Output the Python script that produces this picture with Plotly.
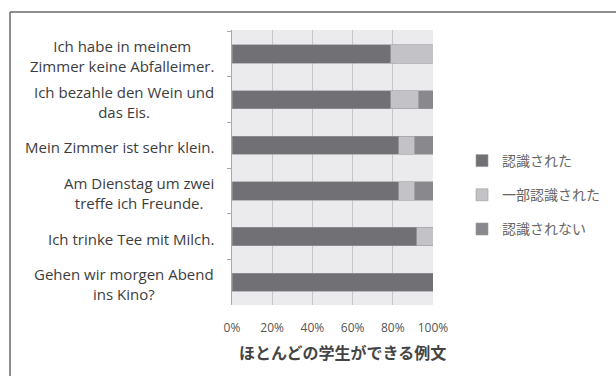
import plotly.graph_objects as go

categories = [
    "Ich habe in meinem<br>Zimmer keine Abfalleimer.",
    "Ich bezahle den Wein und<br>das Eis.",
    "Mein Zimmer ist sehr klein.",
    "Am Dienstag um zwei<br>treffe ich Freunde.",
    "Ich trinke Tee mit Milch.",
    "Gehen wir morgen Abend<br>ins Kino?",
]
recognized = [79, 79, 83, 83, 92, 100]
partly = [21, 14, 8, 8, 8, 0]
not_recognized = [0, 7, 9, 9, 0, 0]
series_names = ["認識された", "一部認識された", "認識されない"]
x_ticks = [0, 20, 40, 60, 80, 100]
x_title = "ほとんどの学生ができる例文"

W, H = 616, 376
L, R, T, B = 232, 433, 30, 305
pw, ph = R - L, B - T

def px_x(p):
    return (p - L) / pw

def px_y(p):
    return (B - p) / ph

colors = ["#707075", "#c3c3c7", "#89898d"]
fig = go.Figure()
for name, vals, col in zip(series_names, [recognized, partly, not_recognized], colors):
    fig.add_trace(go.Bar(
        y=categories, x=vals, name=name, orientation="h",
        marker=dict(color=col, line=dict(width=0.6, color="#9a9a9e")),
        legendgroup=name,
    ))

for c in categories:
    fig.add_annotation(
        x=0, xref="paper", y=c, yref="y", text=c, showarrow=False,
        xanchor="right", xshift=-16, yshift=-2, align="center",
        font=dict(family="Open Sans, sans-serif", size=15, color="#3d3d3d"),
    )

fig.add_annotation(
    x=0.5, xref="paper", y=px_y(352), yref="paper", text="<b>" + x_title + "</b>",
    showarrow=False, xanchor="center", yanchor="middle", xshift=10,
    font=dict(family="Noto Sans CJK JP", size=16, color="#444444"),
)

# outer frame
fig.add_shape(type="line", xref="paper", yref="paper",
              x0=px_x(10), x1=px_x(W + 5), y0=px_y(12), y1=px_y(12),
              line=dict(color="#6a6a6a", width=1.5))
fig.add_shape(type="line", xref="paper", yref="paper",
              x0=px_x(10), x1=px_x(10), y0=px_y(12), y1=px_y(H + 5),
              line=dict(color="#6a6a6a", width=1.5))

fig.update_layout(
    width=W, height=H,
    margin=dict(l=L, r=W - R, t=T, b=H - B, autoexpand=False),
    paper_bgcolor="white", plot_bgcolor="#ebebed",
    barmode="stack", bargap=0.6,
    font=dict(family="Open Sans, Noto Sans CJK JP, sans-serif", color="#555555"),
    xaxis=dict(range=[0, 100], tickvals=x_ticks, ticktext=[f"{v}%" for v in x_ticks],
               showgrid=True, gridcolor="#c6c6c8", gridwidth=1, zeroline=False,
               tickfont=dict(size=12, color="#555555"), ticks="", ticklen=0,
               ticklabelstandoff=14,
               showline=False, fixedrange=True),
    yaxis=dict(categoryorder="array", categoryarray=categories, autorange="reversed",
               showticklabels=False, ticks="outside", ticklen=4, tickcolor="#aaaaaa",
               tickson="boundaries", showline=True, linecolor="#aaaaaa", linewidth=1,
               showgrid=False),
    legend=dict(x=px_x(462), y=px_y(195), xanchor="left", yanchor="middle",
                font=dict(family="Noto Sans CJK JP", size=14, color="#666666"),
                tracegroupgap=13, itemwidth=30, bgcolor="rgba(0,0,0,0)"),
    showlegend=True,
)

fig.write_html("out.html")
